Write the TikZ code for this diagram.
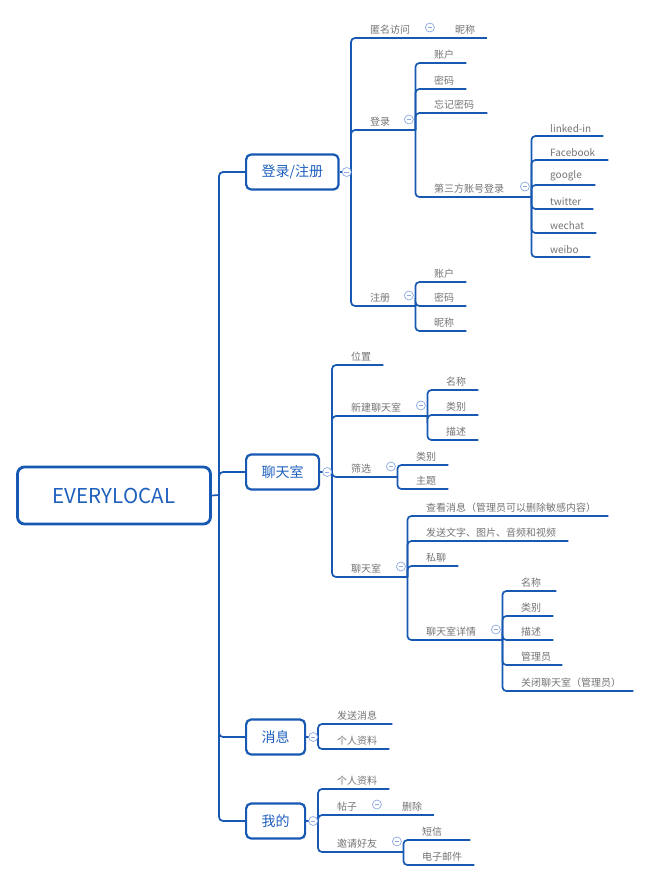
\documentclass[tikz,border=0pt]{standalone}
\usepackage{fontspec}
\setmainfont{Noto Sans CJK SC}

\definecolor{mapline}{RGB}{22,88,178}
\definecolor{topictext}{RGB}{30,96,190}
\definecolor{leaftext}{RGB}{115,115,115}
\definecolor{foldring}{RGB}{140,168,228}

\tikzset{
  branch/.style={draw=mapline, line width=1.7pt, rounded corners=4pt},
  leaf/.style={anchor=south west, inner xsep=0pt, inner ysep=3.5pt, align=left, text=leaftext, font=\fontsize{10}{12}\selectfont},
  topic/.style={draw=mapline, line width=2.2pt, rounded corners=5pt, fill=white, text=topictext, font=\fontsize{14}{16}\selectfont, inner xsep=15.5pt, minimum height=35pt, anchor=west},
  fold/.style={circle, draw=foldring, fill=white, line width=0.7pt, minimum size=9pt, inner sep=0pt,
    path picture={\draw[foldring, line width=0.7pt] ([xshift=2.3pt]path picture bounding box.west) -- ([xshift=-2.3pt]path picture bounding box.east);}}
}

\begin{document}
\begin{tikzpicture}[x=1pt,y=-1pt]
\useasboundingbox (0,0) rectangle (650,881);

% root
\node[draw=mapline, line width=2.8pt, rounded corners=7pt, minimum width=193pt, minimum height=57pt, text=topictext, font=\fontsize{20.5}{22}\selectfont] (root) at (114,495.5) {EVERYLOCAL};
\coordinate (root-j) at (219,495);
\draw[branch] (root.east) -- (root-j);

% main topics
\node[topic] (lz) at (245,172) {登录/注册};
\node[topic] (lt) at (245,472) {聊天室};
\node[topic] (xx) at (245,737) {消息};
\node[topic] (wd) at (245,821) {我的};
\foreach \t in {lz,lt,xx,wd}
  \draw[branch] (root-j) |- (\t.west);

\coordinate (lz-j) at (351,172);
\coordinate (lt-j) at (332,472);
\coordinate (xx-j) at (318,737);
\coordinate (wd-j) at (318,821);
\foreach \t in {lz,lt,xx,wd}
  \draw[branch] (\t.east) -- (\t-j);

% 登录/注册
\node[leaf, text width=66pt] (nm) at (370,38) {匿名访问};
\draw[branch] (lz-j) |- (nm.south east);
\node[leaf, text width=32pt] (nm-nc) at (455,38) {昵称};
\draw[branch] (nm.south east) -- (nm-nc.south east);

\node[leaf, text width=45pt] (dl) at (370,130) {登录};
\draw[branch] (lz-j) |- (dl.south east);
\foreach \nm/\y/\e/\t in {dl-zh/63/466/账户, dl-mm/89/466/密码, dl-wj/113/487/忘记密码}{
  \pgfmathsetmacro\w{\e-434}
  \node[leaf, text width=\w pt] (\nm) at (434,\y) {\t};
  \draw[branch] (dl.south east) |- (\nm.south east);
}
\node[leaf, text width=97pt] (sf) at (434,197) {第三方账号登录};
\draw[branch] (dl.south east) |- (sf.south east);
\foreach \nm/\y/\e/\t in {sf-li/136/603/linked-in, sf-fb/160/608/Facebook, sf-gg/185/595/google,
    sf-tw/209/593/twitter, sf-wc/233/596/wechat, sf-wb/257/590/weibo}{
  \pgfmathsetmacro\w{\e-550}
  \node[leaf, text width=\w pt] (\nm) at (550,\y) {\t};
  \draw[branch] (sf.south east) |- (\nm.south east);
}

\node[leaf, text width=45pt] (zc) at (370,306) {注册};
\draw[branch] (lz-j) |- (zc.south east);
\foreach \nm/\y/\e/\t in {zc-zh/282/466/账户, zc-mm/306/466/密码, zc-nc/331/466/昵称}{
  \pgfmathsetmacro\w{\e-434}
  \node[leaf, text width=\w pt] (\nm) at (434,\y) {\t};
  \draw[branch] (zc.south east) |- (\nm.south east);
}

% 聊天室
\node[leaf, text width=32pt] (wz) at (351,365) {位置};
\draw[branch] (lt-j) |- (wz.south east);

\node[leaf, text width=76pt] (xj) at (351,416) {新建聊天室};
\draw[branch] (lt-j) |- (xj.south east);
\foreach \nm/\y/\e/\t in {xj-mc/390/478/名称, xj-lb/415/478/类别, xj-ms/440/478/描述}{
  \pgfmathsetmacro\w{\e-446}
  \node[leaf, text width=\w pt] (\nm) at (446,\y) {\t};
  \draw[branch] (xj.south east) |- (\nm.south east);
}

\node[leaf, text width=46pt] (sx) at (351,477) {筛选};
\draw[branch] (lt-j) |- (sx.south east);
\foreach \nm/\y/\e/\t in {sx-lb/465/448/类别, sx-zt/489/448/主题}{
  \pgfmathsetmacro\w{\e-416}
  \node[leaf, text width=\w pt] (\nm) at (416,\y) {\t};
  \draw[branch] (sx.south east) |- (\nm.south east);
}

\node[leaf, text width=56pt] (ls) at (351,577) {聊天室};
\draw[branch] (lt-j) |- (ls.south east);
\foreach \nm/\y/\e/\t in {ls-ck/516/608/查看消息（管理员可以删除敏感内容）,
    ls-fs/541/568/发送文字、图片、音频和视频, ls-sl/566/458/私聊}{
  \pgfmathsetmacro\w{\e-426}
  \node[leaf, text width=\w pt] (\nm) at (426,\y) {\t};
  \draw[branch] (ls.south east) |- (\nm.south east);
}
\node[leaf, text width=76pt] (xq) at (426,640) {聊天室详情};
\draw[branch] (ls.south east) |- (xq.south east);
\foreach \nm/\y/\e/\t in {xq-mc/591/556/名称, xq-lb/616/553/类别, xq-ms/640/553/描述,
    xq-gl/665/562/管理员, xq-gb/691/633/关闭聊天室（管理员）}{
  \pgfmathsetmacro\w{\e-521}
  \node[leaf, text width=\w pt] (\nm) at (521,\y) {\t};
  \draw[branch] (xq.south east) |- (\nm.south east);
}

% 消息
\foreach \nm/\y/\e/\t in {xx-fs/724/392/发送消息, xx-zl/749/389/个人资料}{
  \pgfmathsetmacro\w{\e-337}
  \node[leaf, text width=\w pt] (\nm) at (337,\y) {\t};
  \draw[branch] (xx-j) |- (\nm.south east);
}

% 我的
\node[leaf, text width=52pt] (wd-zl) at (337,789) {个人资料};
\draw[branch] (wd-j) |- (wd-zl.south east);
\node[leaf, text width=46pt] (tz) at (337,815) {帖子};
\draw[branch] (wd-j) |- (tz.south east);
\node[leaf, text width=32pt] (tz-sc) at (402,815) {删除};
\draw[branch] (tz.south east) -- (tz-sc.south east);
\node[leaf, text width=66pt] (yq) at (337,852) {邀请好友};
\draw[branch] (wd-j) |- (yq.south east);
\foreach \nm/\y/\e/\t in {yq-dx/840/470/短信, yq-yj/865/474/电子邮件}{
  \pgfmathsetmacro\w{\e-422}
  \node[leaf, text width=\w pt] (\nm) at (422,\y) {\t};
  \draw[branch] (yq.south east) |- (\nm.south east);
}

% fold markers
\foreach \p in {lz,lt,xx,wd}
  \node[fold] (\p-f) at ([xshift=7pt]\p.east) {};
\foreach \p in {nm,dl,sf,zc,xj,sx,ls,xq,tz,yq}
  \node[fold] (\p-f) at ([shift={(-6.5,-10.5)}]\p.south east) {};

\end{tikzpicture}
\end{document}
